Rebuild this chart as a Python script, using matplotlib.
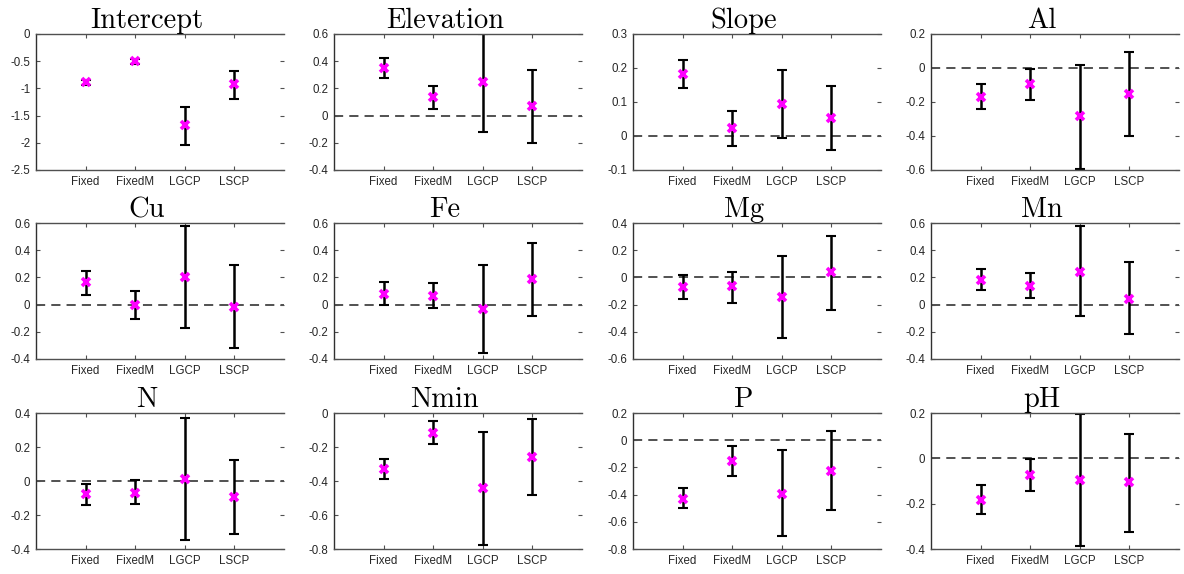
import matplotlib
matplotlib.use('Agg')
import matplotlib.pyplot as plt
import numpy as np

plt.rcParams['axes.unicode_minus'] = False

methods = ['Fixed', 'FixedM', 'LGCP', 'LSCP']

titles = ['Intercept', 'Elevation', 'Slope', 'Al',
          'Cu', 'Fe', 'Mg', 'Mn',
          'N', 'Nmin', 'P', 'pH']

# point estimates (magenta crosses), one row per panel
estimate = [
    [-0.89, -0.505, -1.67, -0.915],
    [0.349, 0.134, 0.246, 0.071],
    [0.183, 0.023, 0.093, 0.052],
    [-0.169, -0.097, -0.282, -0.153],
    [0.163, -0.005, 0.205, -0.020],
    [0.080, 0.061, -0.034, 0.185],
    [-0.071, -0.066, -0.146, 0.037],
    [0.183, 0.139, 0.241, 0.042],
    [-0.076, -0.070, 0.012, -0.093],
    [-0.330, -0.117, -0.443, -0.256],
    [-0.429, -0.152, -0.393, -0.227],
    [-0.182, -0.072, -0.097, -0.105],
]

# interval bounds
lower = [
    [-0.945, -0.56, -2.04, -1.195],
    [0.280, 0.051, -0.117, -0.202],
    [0.142, -0.028, -0.006, -0.042],
    [-0.243, -0.190, -0.592, -0.402],
    [0.071, -0.107, -0.173, -0.320],
    [0.000, -0.027, -0.356, -0.085],
    [-0.156, -0.185, -0.446, -0.237],
    [0.110, 0.049, -0.082, -0.218],
    [-0.140, -0.134, -0.348, -0.311],
    [-0.388, -0.183, -0.777, -0.480],
    [-0.501, -0.266, -0.703, -0.514],
    [-0.245, -0.144, -0.387, -0.324],
]

upper = [
    [-0.85, -0.46, -1.34, -0.68],
    [0.422, 0.217, 0.600, 0.334],
    [0.225, 0.074, 0.193, 0.147],
    [-0.095, -0.006, 0.019, 0.097],
    [0.246, 0.100, 0.578, 0.288],
    [0.163, 0.157, 0.288, 0.454],
    [0.015, 0.041, 0.156, 0.307],
    [0.265, 0.231, 0.576, 0.311],
    [-0.019, 0.006, 0.369, 0.124],
    [-0.272, -0.049, -0.109, -0.033],
    [-0.353, -0.040, -0.069, 0.069],
    [-0.119, -0.002, 0.196, 0.106],
]

ylims = [(-2.5, 0), (-0.4, 0.6), (-0.1, 0.3), (-0.6, 0.2),
         (-0.4, 0.6), (-0.4, 0.6), (-0.6, 0.4), (-0.4, 0.6),
         (-0.4, 0.4), (-0.8, 0), (-0.8, 0.2), (-0.4, 0.2)]
ysteps = [0.5, 0.2, 0.1, 0.2, 0.2, 0.2, 0.2, 0.2, 0.2, 0.2, 0.2, 0.2]


def fmt_tick(v):
    s = '%g' % round(v, 6)
    return '0' if s == '-0' else s


W, H = 1184, 574
fig = plt.figure(figsize=(W / 100, H / 100), dpi=100)

col_left = [36, 334, 633, 931]
row_top = [34, 223, 413]
ax_w, ax_h = 248, 136

x = np.arange(1, len(methods) + 1)
spine_col = '#505050'

for i, name in enumerate(titles):
    r, c = divmod(i, 4)
    ax = fig.add_axes([col_left[c] / W, 1 - (row_top[r] + ax_h) / H,
                       ax_w / W, ax_h / H])
    est = np.array(estimate[i])
    lo = np.array(lower[i])
    hi = np.array(upper[i])

    ax.axhline(0, color='#222222', lw=1.1, ls=(0, (6, 4)), zorder=1)
    ax.errorbar(x, est, yerr=[est - lo, hi - est], fmt='none',
                ecolor='black', elinewidth=1.8, capsize=3.6,
                capthick=1.5, zorder=2)
    ax.plot(x, est, ls='none', marker='x', color='#ff00ff',
            ms=5.5, mew=2.6, zorder=3)

    ax.set_xlim(0, 5)
    ax.set_ylim(*ylims[i])
    ticks = np.arange(ylims[i][0], ylims[i][1] + 1e-9, ysteps[i])
    ax.set_yticks(ticks)
    ax.set_yticklabels([fmt_tick(t) for t in ticks])
    ax.set_xticks(x)
    ax.set_xticklabels(methods)

    ax.spines['right'].set_visible(False)
    for s in ['left', 'bottom', 'top']:
        ax.spines[s].set_color(spine_col)
        ax.spines[s].set_linewidth(1.0)
    ax.spines['left'].set_color('#303030')

    ax.tick_params(direction='in', length=3, width=0.8, color=spine_col,
                   labelsize=8.3, labelcolor='#262626', pad=4,
                   top=True, right=True)
    for lab in ax.get_xticklabels() + ax.get_yticklabels():
        lab.set_family('Liberation Sans')

    ax.set_title(name, fontname='cmr10', fontsize=20.5, pad=4, x=0.447)

fig.savefig('out.png', dpi=100)
